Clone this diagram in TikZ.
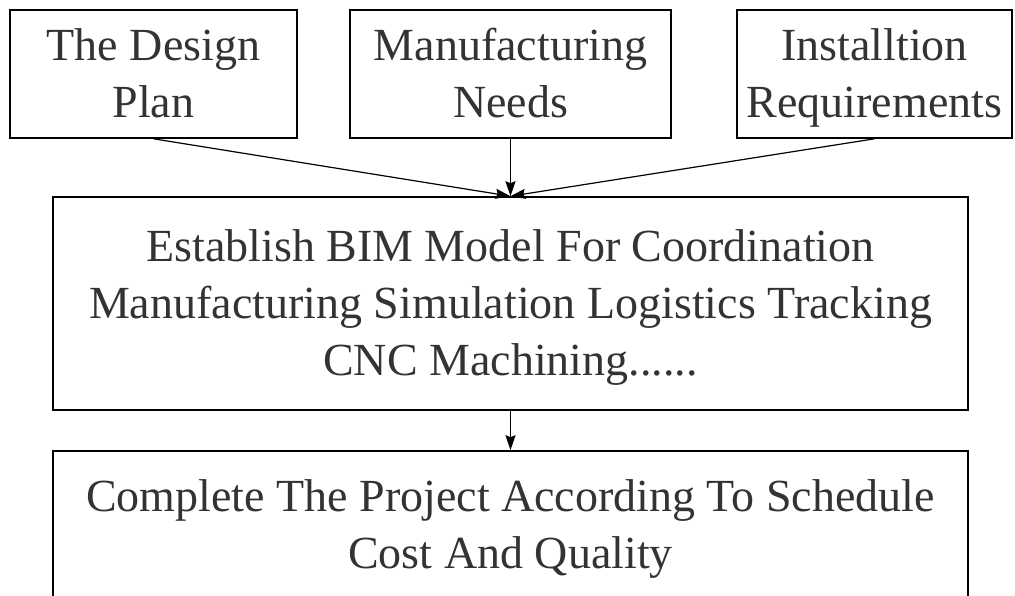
\documentclass[tikz,border=0pt]{standalone}
\usepackage{fontspec}
\setmainfont{Liberation Serif}
\usetikzlibrary{arrows.meta}
\definecolor{txtgray}{HTML}{333333}

\begin{document}
\begin{tikzpicture}[x=1pt,y=1pt,
  box/.style={draw,line width=1.6pt,rectangle,inner sep=0pt,align=center,text=txtgray,
    font=\fontsize{46}{57}\selectfont,text height=88pt,text depth=0pt},
  link/.style={line width=1.2pt,-{Stealth[length=15pt,width=10pt,inset=2pt]}}]
\useasboundingbox (0,0) rectangle (1015,-596);
% the three inputs
\node[box,minimum width=287,minimum height=128] (design) at (153.5,-74) {The Design\\Plan};
\node[box,minimum width=321,minimum height=128] (needs) at (510.5,-74) {Manufacturing\\Needs};
\node[box,minimum width=275,minimum height=128] (install) at (874.5,-74) {Installtion\\Requirements};
% the model and the result
\node[box,minimum width=915,minimum height=213,text height=143pt] (model) at (510.5,-303.5)
  {Establish BIM Model For Coordination\\Manufacturing Simulation Logistics Tracking\\CNC Machining......};
\node[box,minimum width=915,minimum height=146] (goal) at (510.5,-524)
  {Complete The Project According To Schedule\\Cost And Quality};
\foreach \i in {design, needs, install}% inputs into the model
\draw[link] (\i.south) -- (model.north);
\draw[link] (model.south) -- (goal.north);
\end{tikzpicture}
\end{document}
